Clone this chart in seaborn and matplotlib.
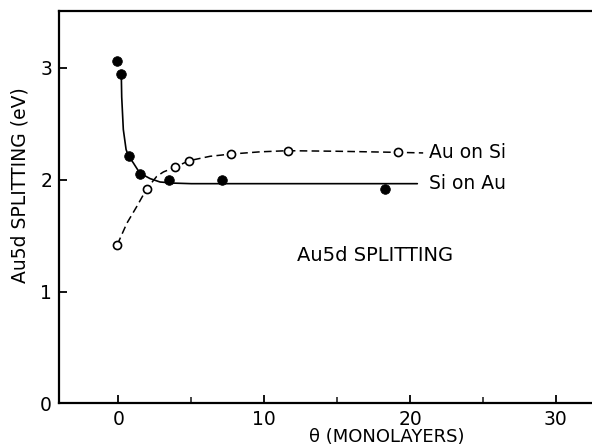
import matplotlib
matplotlib.use("Agg")
import matplotlib.pyplot as plt
import seaborn as sns
import pandas as pd
from matplotlib.ticker import MultipleLocator

# ---- data ----
si_on_au_x = [-0.1, 0.2, 0.7, 1.5, 3.5, 7.1, 18.3]
si_on_au_y = [3.06, 2.95, 2.21, 2.05, 2.00, 2.00, 1.92]
au_on_si_x = [-0.07, 1.95, 3.85, 4.85, 7.7, 11.6, 19.2]
au_on_si_y = [1.42, 1.92, 2.11, 2.17, 2.23, 2.26, 2.245]

# fitted guide curves
si_curve_x = [0.2, 0.23, 0.34, 0.53, 0.71, 1.03, 1.47, 2.18, 2.86, 3.77, 5.0, 8.0, 12.0, 16.0, 20.5]
si_curve_y = [2.95, 2.74, 2.45, 2.27, 2.21, 2.15, 2.06, 2.01, 1.98, 1.97, 1.965, 1.965, 1.965, 1.965, 1.965]
au_curve_x = [-0.07, 0.58, 1.26, 1.95, 2.63, 3.09, 3.85, 4.83, 6.29, 7.73, 9.73, 11.6, 15.0, 19.2, 20.9]
au_curve_y = [1.42, 1.61, 1.76, 1.92, 2.03, 2.07, 2.11, 2.17, 2.21, 2.23, 2.25, 2.26, 2.255, 2.245, 2.24]

x_ticks = [0, 10, 20, 30]
y_ticks = [0, 1, 2, 3]

sns.set_theme(style="white")
plt.rcParams["font.family"] = ["DejaVu Sans"]
plt.rcParams["text.color"] = "black"
plt.rcParams["axes.labelcolor"] = "black"

fig = plt.figure(figsize=(5.92, 4.47), dpi=100)
ax = fig.add_axes([59 / 592, 0.0978, 545 / 592, 0.8776])

si_c = pd.DataFrame({"x": si_curve_x, "y": si_curve_y})
au_c = pd.DataFrame({"x": au_curve_x, "y": au_curve_y})
sns.lineplot(data=si_c, x="x", y="y", sort=False, estimator=None, color="black", lw=1.2, ax=ax)
sns.lineplot(data=au_c, x="x", y="y", sort=False, estimator=None, color="black", lw=1.1,
             dashes=False, ax=ax)
ax.lines[-1].set_dashes((5.0, 2.8))

si_p = pd.DataFrame({"x": si_on_au_x, "y": si_on_au_y})
au_p = pd.DataFrame({"x": au_on_si_x, "y": au_on_si_y})
sns.scatterplot(data=si_p, x="x", y="y", color="black", s=48, edgecolor="black", ax=ax, zorder=5)
sns.scatterplot(data=au_p, x="x", y="y", color="white", s=34, edgecolor="black", linewidth=1.2,
                ax=ax, zorder=5)

ax.set_xlim(-4.07, 33.3)
ax.set_ylim(0, 3.51)
ax.set_xticks(x_ticks)
ax.set_yticks(y_ticks)
ax.xaxis.set_minor_locator(MultipleLocator(5))
ax.tick_params(axis="both", which="major", direction="in", length=6, width=1.3,
               labelsize=13.5, pad=5, colors="black")
ax.tick_params(axis="x", which="minor", direction="in", length=4, width=1.2, bottom=True)
ax.tick_params(axis="x", which="major", bottom=True)
ax.tick_params(axis="y", which="major", left=True)
for s in ax.spines.values():
    s.set_color("black")
    s.set_linewidth(1.6)

ax.set_xlabel("θ (MONOLAYERS)", fontsize=13)
ax.xaxis.set_label_coords(0.601, -0.086)
ax.xaxis.label.set_va("center")
ax.set_ylabel("Au5d SPLITTING (eV)", fontsize=13.5)
ax.yaxis.set_label_coords(-0.0716, 0.556)
ax.yaxis.label.set_va("center")

ax.text(21.3, 2.24, "Au on Si", fontsize=13.5, va="center", ha="left")
ax.text(21.3, 1.97, "Si on Au", fontsize=13.5, va="center", ha="left")
ax.text(17.6, 1.32, "Au5d SPLITTING", fontsize=14, va="center", ha="center")

fig.savefig("out.png", dpi=100)
